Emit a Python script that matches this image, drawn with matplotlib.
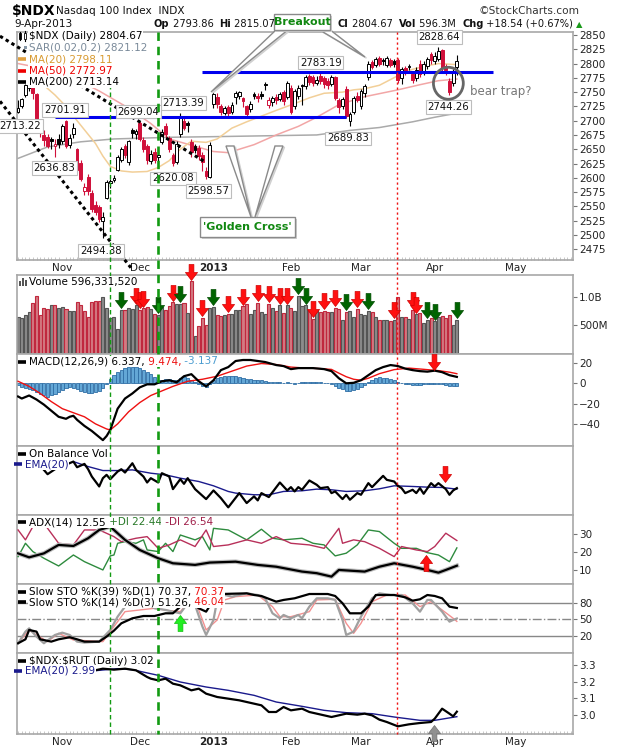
import numpy as np
import pandas as pd
import matplotlib as mpl
mpl.use('Agg')
import matplotlib.pyplot as plt
from matplotlib.patches import Rectangle, Ellipse, Polygon
from matplotlib.path import Path
from matplotlib.lines import Line2D

mpl.rcParams['font.family'] = ['DejaVu Sans']
mpl.rcParams['font.size'] = 7.5

# ---------------- data ----------------
holidays = ['2012-10-29', '2012-10-30', '2012-11-22', '2012-12-25', '2013-01-01',
            '2013-01-21', '2013-02-18', '2013-03-29', '2013-05-27']

open_ = [2716, 2726, 2745, 2758, 2765, 2746, 2692, 2675, 2672, 2668,
         2655, 2668, 2664, 2700, 2658, 2676, 2650, 2626, 2576, 2602,
         2574, 2552, 2548, 2524, 2565, 2590, 2596, 2614, 2632, 2656,
         2628, 2684, 2676, 2696, 2666, 2656, 2630, 2646, 2636, 2663,
         2690, 2670, 2640, 2628, 2676, 2700, 2696, 2662, 2656, 2652,
         2640, 2612, 2602, 2730, 2742, 2726, 2714, 2724, 2716, 2742,
         2744, 2740, 2726, 2720, 2746, 2744, 2746, 2764, 2728, 2732,
         2742, 2738, 2750, 2742, 2758, 2726, 2744, 2762, 2760, 2778,
         2776, 2766, 2778, 2774, 2770, 2764, 2776, 2736, 2726, 2756,
         2700, 2716, 2744, 2726, 2748, 2776, 2802, 2798, 2810, 2806,
         2798, 2806, 2804, 2806, 2774, 2792, 2794, 2782, 2774, 2800,
         2784, 2796, 2816, 2804, 2808, 2824, 2796, 2770, 2766, 2793.86]
high = [2736, 2740, 2764, 2772, 2770, 2748, 2698, 2683, 2676, 2672,
        2668, 2676, 2694, 2701.91, 2676, 2696, 2652, 2632, 2590, 2606,
        2578, 2560, 2552, 2540, 2596, 2598, 2604, 2640, 2654, 2660,
        2666, 2688, 2686, 2699.04, 2672, 2660, 2648, 2652, 2648, 2686,
        2696, 2674, 2644, 2664, 2713.39, 2706, 2700, 2668, 2660, 2658,
        2646, 2618, 2662, 2750, 2748, 2730, 2726, 2728, 2732, 2752,
        2752, 2742, 2728, 2734, 2750, 2748, 2752, 2768, 2742, 2744,
        2746, 2750, 2754, 2770, 2762, 2756, 2762, 2764, 2780, 2782,
        2780, 2778, 2783.19, 2778, 2774, 2780, 2778, 2740, 2742, 2760,
        2716, 2744, 2750, 2756, 2764, 2804, 2806, 2812, 2814, 2810,
        2814, 2810, 2808, 2810, 2794, 2796, 2800, 2786, 2794, 2806,
        2804, 2812, 2820, 2820, 2828.64, 2826, 2800, 2775, 2790, 2815.07]
low = [2713.22, 2722, 2742, 2752, 2738, 2684, 2672, 2655, 2652, 2650,
       2636.83, 2652, 2660, 2653, 2652, 2670, 2610, 2594, 2570, 2570,
       2540, 2534, 2522, 2494.38, 2562, 2582, 2592, 2612, 2628, 2634,
       2622, 2670, 2668, 2664, 2645, 2625, 2624, 2626, 2630, 2660,
       2668, 2645, 2620.08, 2624, 2672, 2684, 2680, 2636, 2644, 2632,
       2612, 2598.57, 2600, 2722, 2722, 2710, 2710, 2708, 2712, 2730,
       2738, 2724, 2706, 2716, 2738, 2732, 2738, 2754, 2722, 2726,
       2730, 2734, 2728, 2738, 2712, 2720, 2738, 2728, 2756, 2762,
       2760, 2762, 2764, 2758, 2756, 2760, 2736, 2714, 2720, 2704,
       2689.83, 2712, 2732, 2720, 2742, 2772, 2790, 2794, 2796, 2798,
       2794, 2794, 2794, 2766, 2764, 2780, 2788, 2766, 2770, 2776,
       2780, 2790, 2800, 2800, 2804, 2786, 2780, 2744.26, 2760, 2780]
close = [2722, 2738, 2762, 2768, 2748, 2690, 2680, 2667, 2656, 2664,
         2660, 2660, 2690, 2656, 2670, 2688, 2614, 2598, 2584, 2576,
         2546, 2540, 2528, 2532, 2592, 2594, 2600, 2637, 2650, 2640,
         2664, 2678, 2682, 2668, 2650, 2632, 2642, 2632, 2640, 2680,
         2676, 2650, 2626, 2660, 2704, 2688, 2692, 2645, 2648, 2638,
         2628, 2603, 2658, 2747, 2730, 2716, 2722, 2714, 2727, 2748,
         2750, 2734, 2712, 2730, 2744, 2740, 2744, 2762, 2736, 2740,
         2736, 2746, 2734, 2766, 2716, 2752, 2757, 2760, 2776, 2768,
         2766, 2772, 2770, 2764, 2762, 2776, 2740, 2724, 2738, 2708,
         2712, 2740, 2736, 2752, 2760, 2800, 2794, 2808, 2800, 2804,
         2810, 2798, 2800, 2772, 2790, 2786, 2796, 2772, 2788, 2782,
         2800, 2808, 2806, 2814, 2822, 2792, 2788, 2750, 2786, 2804.67]
volume_m = [645, 630, 686, 730, 890, 1005, 686, 800, 790, 861,
            861, 800, 820, 780, 750, 750, 900, 850, 750, 650,
            900, 915, 915, 1000, 800, 630, 645, 440, 773, 773,
            802, 790, 850, 773, 800, 814, 780, 695, 686, 814,
            773, 844, 906, 873, 873, 890, 716, 1270, 310, 483,
            630, 512, 800, 820, 686, 658, 686, 700, 700, 773,
            773, 832, 873, 695, 773, 890, 733, 695, 873, 802,
            745, 850, 716, 850, 802, 756, 1011, 832, 850, 773,
            617, 773, 733, 756, 733, 733, 802, 791, 594, 733,
            756, 652, 791, 695, 686, 756, 733, 640, 594, 594,
            594, 582, 594, 988, 640, 652, 617, 768, 695, 722,
            541, 594, 629, 571, 652, 663, 629, 686, 512, 596.33]

ma20_day = [5, 7, 10, 13, 15, 18, 21, 23, 25, 28, 31, 35, 38, 41, 44, 47, 51, 54, 58, 62,
            66, 70, 75, 79, 83, 88, 91, 94, 98, 101, 104, 107, 110, 114, 119]
ma20 = [2772, 2762, 2745, 2725, 2708, 2684, 2660, 2638, 2620, 2612, 2610, 2611, 2618, 2630,
        2650, 2664, 2662, 2668, 2687, 2698, 2708, 2718, 2730, 2740, 2748, 2750, 2754, 2756,
        2762, 2772, 2782, 2790, 2795, 2800, 2798.11]
ma50_day = [0, 8, 15, 22, 30, 36, 41, 47, 53, 57, 64, 70, 76, 81, 87, 94, 103, 109, 114, 119]
ma50 = [2800, 2790, 2775, 2752, 2722, 2695, 2668, 2657, 2646, 2644, 2658, 2675, 2690, 2706,
        2728, 2742, 2754, 2763, 2770, 2772.97]
ma200_day = [0, 8, 17, 26, 42, 53, 81, 90, 98, 107, 113, 119]
ma200 = [2634, 2654, 2663, 2668, 2671, 2672, 2675, 2683, 2688, 2698, 2706, 2713.14]

# price annotations
trend_a_day, trend_a = [-4.9, 50.4], [2848, 2629]
trend_b_day, trend_b = [-4.9, 30.9], [2734, 2440]
support_day, support = [10, 89], 2707
resist_day, resist = [49.9, 128.8], 2786
swing_text = ['2828.64', '2783.19', '2744.26', '2689.83', '2713.39', '2701.91', '2699.04',
              '2713.22', '2636.83', '2494.38', '2620.08', '2598.57']
swing_day = [114.2, 82.1, 116.7, 89.5, 44.8, 12.7, 32.6, 0.5, 9.8, 22.5, 42.0, 51.6]
swing_price = [2846, 2801.6, 2723.5, 2669, 2730.5, 2718.7, 2715.8, 2690.7, 2616.6, 2472.3,
               2599, 2576.9]
trap_day, trap_price = 116.7, 2765.5

red_arrow_day = [32, 33, 34, 42, 47, 50, 57, 61, 65, 68, 71, 73, 80, 83, 86, 92, 102, 107, 108]
green_arrow_day = [28, 38, 44, 53, 76, 78, 89, 95, 111, 113, 119]

macd_day = [0, 1, 3, 5, 7, 9, 11, 13, 14, 15, 16, 18, 20, 22, 23, 24, 25, 27, 29, 31,
            33, 35, 37, 39, 41, 43, 45, 47, 49, 51, 53, 55, 57, 59, 61, 63, 65, 67, 70, 72,
            74, 76, 78, 80, 83, 85, 87, 89, 91, 93, 95, 97, 99, 101, 103, 105, 107, 109, 111, 113,
            115, 117, 119]
macd = [-13, -15, -12, -16, -21, -27, -33, -35, -33, -32, -36, -42, -47, -53, -56, -52, -46, -25, -15, -10,
        -4, -1, -1, 2, 3, 1, 7, 9, 2, -3, 3, 13, 16, 22, 23, 23, 22, 21, 18, 17,
        14, 15, 15, 15, 14, 12, 5, 0, 0.5, 3, 8, 13, 16, 18, 17, 14.5, 13, 12, 11.5, 12.5,
        11, 8, 6.337]
signal_day = [0, 3, 6, 9, 12, 15, 18, 21, 24, 25, 27, 30, 33, 36, 38, 42, 46, 50, 54, 58,
              62, 66, 70, 74, 78, 82, 85, 87, 89, 91, 93, 95, 98, 102, 106, 110, 114, 117, 119]
signal = [2, -3, -10, -18, -25, -29, -33, -40, -45, -46, -40, -28, -19, -12, -9, -3, 2, 4, 7, 12,
          17, 19.5, 18.5, 16, 15, 14.5, 13.7, 10, 6.5, 4, 3, 5, 9.5, 13.5, 15, 13.8, 12.5, 11, 9.474]
macd_hist = [-2, -4, -5, -6, -7, -9, -11, -12, -13, -12, -11, -9, -7, -5, -4, -5, -6, -8, -9, -10,
             -10, -9, -8, -5, -1, 4, 8, 11, 13, 15, 16, 16, 16, 15, 13, 11, 9, 6, 3, 3,
             4, 4, 3, 3, 5, 6, 5, 3, 1, -1, -3, -4, -1, 3, 5, 6, 7, 7, 7, 7,
             6, 5, 4, 4, 3, 3, 3, 2, 1, 1, 1, 1, 0, 1, 0, -1, 0, 1, 1, 1,
             1, 1, 1, 0, 0, -1, -3, -5, -6, -8, -8, -7, -6, -4, -2, 1, 3, 5, 6, 5,
             5, 4, 3, 1, 0, -1, -1, -2, -2, -2, -1, -1, -1, -1, -1, -1, -2, -3, -3, -3.137]

obv_day = [7, 8, 10, 15, 16, 18, 19, 20, 22, 23, 24, 25, 27, 28, 29, 31, 32, 34, 35, 36,
           38, 39, 41, 42, 44, 45, 46, 48, 51, 53, 55, 57, 60, 62, 64, 65, 66, 68, 71, 73,
           74, 75, 76, 77, 79, 81, 82, 84, 85, 86, 88, 89, 90, 92, 93, 95, 96, 99, 100, 102,
           103, 104, 105, 107, 108, 109, 110, 112, 113, 114, 116, 117, 118, 119]
obv = [130, 117, 132, 155, 138, 148, 132, 110, 80, 105, 115, 102, 125, 132, 122, 150, 130, 110, 92, 105,
       92, 120, 110, 72, 102, 88, 105, 72, 42, 68, 45, 17, 60, 30, 50, 38, 60, 48, 92, 68,
       78, 65, 78, 70, 98, 85, 75, 78, 60, 65, 42, 55, 40, 60, 55, 90, 78, 112, 100, 95,
       82, 75, 60, 70, 60, 75, 58, 90, 80, 90, 72, 55, 68, 75]
obv_ema_day = [15, 19, 23, 27, 31, 36, 40, 44, 49, 53, 57, 59, 64, 68, 72, 77, 81, 85, 89, 94,
               98, 102, 107, 111, 115, 119]
obv_ema = [155, 140, 128, 128, 130, 120, 115, 105, 95, 82, 65, 60, 55, 55, 65, 67, 72, 70, 65, 67,
           73, 82, 80, 78, 77, 72]

adx_day = [0, 3, 7, 11, 15, 19, 22, 25, 26, 29, 33, 38, 42, 48, 52, 59, 65, 70, 77, 81,
           85, 87, 94, 98, 102, 107, 111, 114, 116, 119]
adx = [19.4, 17.2, 19.4, 24.1, 23.5, 27.8, 32.4, 34.2, 32.4, 26.9, 21.3, 16.7, 13.9, 13.0, 14.3,
       14.8, 13.0, 12.0, 9.3, 8.4, 6.5, 10.2, 9.3, 12.0, 13.9, 12.0, 10.2, 8.7, 10.2, 12.55]
pdi_day = [0, 2, 4, 7, 11, 15, 18, 23, 25, 26, 27, 29, 32, 34, 35, 38, 40, 42, 44, 48,
           50, 52, 53, 57, 62, 66, 69, 72, 77, 80, 83, 86, 89, 92, 95, 98, 102, 104, 108, 111,
           114, 117, 119]
pdi = [17.6, 25.0, 20.4, 16.7, 12.4, 18.5, 14.8, 10.2, 18.0, 18.5, 25.0, 25.9, 25.0, 26.9, 21.3,
       20.4, 25.0, 20.4, 29.6, 26.9, 28.7, 21.3, 33.3, 32.4, 26.9, 32.8, 27.8, 26.9, 27.8, 25.0,
       24.1, 18.0, 19.5, 24.1, 32.4, 31.5, 25.0, 22.2, 22.2, 19.8, 18.5, 14.8, 22.44]
ndi_day = [0, 2, 4, 7, 11, 15, 18, 22, 26, 28, 32, 35, 38, 41, 44, 48, 51, 53, 57, 62,
           66, 70, 74, 79, 83, 87, 88, 91, 94, 98, 102, 104, 108, 111, 113, 116, 119]
ndi = [32.4, 26.9, 34.2, 36.1, 25.0, 24.1, 32.4, 32.4, 28.7, 25.9, 27.8, 28.7, 22.2, 24.1, 26.9,
       23.2, 32.4, 23.2, 24.1, 26.9, 25.0, 28.7, 25.0, 24.1, 22.2, 33.3, 25.0, 26.9, 25.9, 22.2,
       17.6, 23.2, 21.3, 20.4, 23.2, 30.6, 26.54]

k39_day = [0, 2, 3, 5, 6, 9, 11, 14, 16, 18, 22, 24, 26, 28, 31, 34, 37, 40, 42, 44,
           45, 48, 49, 51, 53, 55, 62, 64, 66, 70, 72, 75, 79, 84, 86, 88, 90, 93, 95, 97,
           102, 105, 107, 109, 111, 113, 115, 117, 118, 119]
k39 = [6.2, 13.4, 30.4, 27.4, 13.4, 9.2, 13.4, 17.1, 13.4, 9.2, 9.2, 18.3, 29.2, 42.5, 51.6,
       55.8, 55.8, 60.7, 60.7, 72.8, 94, 75.9, 69.8, 63.7, 85, 95.8, 97, 94, 92.2, 81.9,
       85, 88, 95.8, 95.8, 92.2, 78.9, 60.7, 60.7, 72.8, 94, 94, 89.8, 83.7, 86.2, 94,
       92.2, 88, 72.8, 71.6, 70.37]
k14_day = [0, 2, 3, 5, 7, 10, 12, 14, 16, 18, 22, 25, 27, 29, 32, 37, 40, 42, 44, 46,
           47, 48, 50, 51, 53, 54, 56, 58, 62, 65, 67, 69, 71, 72, 74, 76, 77, 79, 81, 84,
           86, 88, 89, 91, 93, 96, 98, 101, 104, 107, 109, 111, 112, 115, 117, 118, 119]
k14 = [6.2, 27.4, 33.4, 18.3, 6.2, 21.3, 25.5, 21.3, 9.2, 7.4, 9.2, 30.4, 54.6, 72.8, 94.0,
       69.8, 66.8, 63.7, 60.7, 78.9, 97.1, 75.9, 36.5, 21.3, 48.6, 85.0, 94.0, 91.0, 97.1, 94.0,
       88.0, 60.7, 51.6, 57.7, 51.6, 57.7, 51.6, 72.8, 88.0, 88.0, 85.0, 48.6, 21.3, 27.4, 54.6,
       88.0, 97.1, 94.0, 94.0, 78.9, 63.7, 85.0, 85.0, 63.7, 45.5, 48.6, 51.26]
d3_day = [0, 3, 5, 8, 11, 15, 23, 26, 29, 37, 41, 44, 47, 49, 51, 54, 56, 59, 65, 69,
          71, 74, 79, 81, 86, 89, 91, 93, 96, 100, 105, 109, 112, 115, 118, 119]
d3 = [6.2, 30.4, 21.3, 9.2, 24.3, 12.2, 9.2, 36.5, 63.7, 69.8, 65.5, 63.7, 88.0, 66.8, 30.4,
      48.6, 85.0, 91.0, 94.0, 72.8, 54.6, 54.6, 63.7, 85.0, 86.2, 42.5, 24.3, 42.5, 81.9, 94.0,
      94.0, 72.8, 81.9, 66.8, 51.6, 46.04]

ratio_day = [20, 23, 26, 29, 32, 35, 36, 38, 40, 42, 44, 47, 49, 51, 54, 57, 60, 64, 66, 68,
             70, 72, 74, 77, 79, 81, 83, 85, 87, 89, 92, 94, 96, 98, 100, 103, 106, 109, 112, 113,
             115, 117, 118, 119]
ratio = [3.264, 3.278, 3.272, 3.278, 3.268, 3.228, 3.218, 3.208, 3.218, 3.188, 3.178, 3.148,
         3.158, 3.128, 3.108, 3.098, 3.088, 3.068, 3.058, 3.018, 3.018, 3.048, 3.028, 3.038,
         3.018, 3.008, 2.998, 2.988, 2.998, 3.008, 3.002, 3.008, 2.998, 2.972, 2.958, 2.932,
         2.944, 2.952, 2.958, 2.978, 3.038, 3.008, 2.992, 3.02]
ratio_ema_day = [20, 27, 31, 38, 44, 51, 57, 64, 70, 77, 83, 89, 96, 102, 109, 113, 119]
ratio_ema = [3.264, 3.278, 3.272, 3.238, 3.198, 3.168, 3.148, 3.118, 3.078, 3.052, 3.028,
             3.014, 3.008, 2.988, 2.968, 2.968, 2.99]

guide_green_day = [25, 38]
guide_red_day = 102.7

# ---------------- layout ----------------
W, H = 620, 750
L, R = 16.6, 573
XMIN, XMAX = -0.4, 150.5
RED = '#d0103a'
GRID = '#a8a8a8'

days = pd.bdate_range('2012-10-12', '2013-05-31')
days = days[~days.isin(pd.to_datetime(holidays))]
n = len(close)
x = np.arange(n)
month_pos, month_lab = [], []
for k in range(1, len(days)):
    if days[k].month != days[k - 1].month and k < XMAX:
        month_pos.append(k)
        month_lab.append('2013' if days[k].month == 1 else days[k].strftime('%b'))

fig = plt.figure(figsize=(6.2, 7.5), dpi=100)


def fx(v):
    return v / W


def fy(v):
    return 1 - v / H


def panel(top, bot, ylim, yticks=None, ylabels=None):
    ax = fig.add_axes([fx(L), fy(bot), (R - L) / W, (bot - top) / H])
    ax.set_xlim(XMIN, XMAX)
    ax.set_ylim(*ylim)
    for s in ax.spines.values():
        s.set_color(GRID)
        s.set_linewidth(1.2)
    ax.yaxis.tick_right()
    ax.tick_params(axis='y', length=3, width=0.8, color='#777', pad=1.5, labelsize=7.5,
                   labelcolor='#222')
    ax.set_yticks(yticks if yticks is not None else [])
    if ylabels is not None:
        ax.set_yticklabels(ylabels)
    ax.set_xticks([])
    return ax


def month_axis(ax):
    ax.set_xticks(month_pos)
    ax.set_xticklabels(month_lab)
    ax.set_xticks(np.arange(0, 151), minor=True)
    ax.tick_params(axis='x', which='major', length=0, pad=2.5, labelsize=7.5, labelcolor='#222')
    ax.tick_params(axis='x', which='minor', length=2, width=0.5, color='#b0b0b0', direction='in')
    for t in ax.get_xticklabels():
        if t.get_text() == '2013':
            t.set_fontweight('bold')


# ---------------- price panel ----------------
axp = panel(32, 260, (2456, 2855.3), np.arange(2475, 2851, 25))
month_axis(axp)
prev = np.r_[close[0], close[:-1]]
for i in range(n):
    col = RED if close[i] < prev[i] else 'black'
    axp.vlines(i, low[i], high[i], color=col, lw=0.8, zorder=3)
    lo, hi = min(open_[i], close[i]), max(open_[i], close[i])
    face = 'white' if close[i] >= open_[i] else col
    axp.add_patch(Rectangle((i - 0.38, lo), 0.76, max(hi - lo, 1.2), facecolor=face,
                            edgecolor=col, lw=0.7, zorder=4))
axp.plot(ma200_day, ma200, color='#aaaaaa', lw=1.1, zorder=2)
axp.plot(ma50_day, ma50, color='#f2a6a6', lw=1.1, zorder=2)
axp.plot(ma20_day, ma20, color='#f2cf98', lw=1.1, zorder=2)
axp.plot(trend_a_day, trend_a, color='black', lw=2.2, ls=(0, (1.1, 1.1)), clip_on=False, zorder=5)
axp.plot(trend_b_day, trend_b, color='black', lw=2.2, ls=(0, (1.1, 1.1)), clip_on=False, zorder=5)
axp.hlines(support, *support_day, color='#0000ee', lw=2.2, zorder=5)
axp.hlines(resist, *resist_day, color='#0000ee', lw=2.2, zorder=5)
for s, d, p in zip(swing_text, swing_day, swing_price):
    axp.text(d, p, s, ha='center', va='center', fontsize=7.3, color='#111', clip_on=False, zorder=6,
             bbox=dict(facecolor='white', edgecolor='#bdbdbd', lw=0.8, pad=1.3))
axp.add_patch(Ellipse((trap_day, trap_price), 8.1, 56, fill=False, edgecolor='#666666', lw=2.0, zorder=6))
axp.text(122.7, 2751, 'bear trap?', color='#777777', fontsize=8.5, va='center', ha='left')

# ---------------- volume panel ----------------
axv = panel(275, 354, (0, 1376), [500, 1000], ['500M', '1.0B'])
vfill = ['#d47a82' if close[i] < prev[i] else '#8c8c8c' for i in range(n)]
vedge = ['#c0283e' if close[i] < prev[i] else '#555555' for i in range(n)]
axv.bar(x, volume_m, width=0.82, color=vfill, edgecolor=vedge, lw=0.8, zorder=2)

down_arrow = Path([(-0.15, 0.5), (0.15, 0.5), (0.15, 0.0), (0.38, 0.0), (0, -0.5), (-0.38, 0.0),
                   (-0.15, 0.0), (-0.15, 0.5)], closed=True)
up_arrow = Path([(vx, -vy) for vx, vy in down_arrow.vertices], closed=True)
vol = np.array(volume_m)
axv.plot(red_arrow_day, vol[red_arrow_day] + 165, ls='none', marker=down_arrow, ms=11.5,
         mfc='#ff1010', mec='#d00000', mew=0.5, clip_on=False, zorder=6)
axv.plot(green_arrow_day, vol[green_arrow_day] + 165, ls='none', marker=down_arrow, ms=11.5,
         mfc='#006400', mec='#004d00', mew=0.5, clip_on=False, zorder=6)

# ---------------- MACD panel ----------------
axm = panel(354, 446, (-61.8, 28.9), [-40, -20, 0, 20])
axm.bar(x, macd_hist, width=0.85, color='#63a7d6', edgecolor='#2f6ea5', lw=0.6, zorder=2)
axm.plot(signal_day, signal, color='#ee1111', lw=1.0, zorder=3)
axm.plot(macd_day, macd, color='black', lw=1.6, zorder=4)
axm.plot([112.8], [21], ls='none', marker=down_arrow, ms=11.5, mfc='#ff1010', mec='#d00000',
         mew=0.5, zorder=6)

# ---------------- OBV panel ----------------
axo = panel(446, 515, (-6, 202))
axo.plot(obv_ema_day, obv_ema, color='#1a1a8c', lw=1.0, zorder=3)
axo.plot(obv_day, obv, color='black', lw=1.6, zorder=4)
axo.plot([115.7], [118], ls='none', marker=down_arrow, ms=11.5, mfc='#ff1010', mec='#d00000',
         mew=0.5, zorder=6)

# ---------------- ADX panel ----------------
axa = panel(515, 584, (2.4, 40.7), [10, 20, 30])
axa.plot(pdi_day, pdi, color='#2e8b3e', lw=1.0, zorder=3)
axa.plot(ndi_day, ndi, color='#b8305a', lw=1.0, zorder=3)
axa.plot(adx_day, adx, color='#bbbbbb', lw=3.2, zorder=3)
axa.plot(adx_day, adx, color='black', lw=1.6, zorder=4)
axa.plot([110.6], [14.3], ls='none', marker=up_arrow, ms=11.5, mfc='#ff1010', mec='#d00000',
         mew=0.5, zorder=6)

# ---------------- Slow stochastics panel ----------------
axs = panel(584, 653, (-11.5, 114), [20, 50, 80])
axs.axhline(80, color='#888888', lw=1.0)
axs.axhline(20, color='#888888', lw=1.0)
axs.axhline(50, color='#888888', lw=1.0, ls='-.')
axs.plot(d3_day, d3, color='#f39090', lw=1.0, zorder=3)
axs.plot(k14_day, k14, color='#a0a0a0', lw=1.6, zorder=3)
axs.plot(k39_day, k39, color='black', lw=1.6, zorder=4)
axs.plot([43.9], [43], ls='none', marker=up_arrow, ms=11.5, mfc='#22ee22', mec='#10c010',
         mew=0.5, zorder=6)

# ---------------- ratio panel ----------------
axr = panel(653, 734, (2.886, 3.372), [3.0, 3.1, 3.2, 3.3], ['3.0', '3.1', '3.2', '3.3'])
month_axis(axr)
axr.plot(ratio_ema_day, ratio_ema, color='#1a1a8c', lw=1.0, zorder=3)
axr.plot(ratio_day, ratio, color='black', lw=1.6, zorder=4)
axr.plot([112.7], [2.892], ls='none', marker=up_arrow, ms=11.5, mfc='#909090', mec='#707070',
         mew=0.5, clip_on=False, zorder=6)

# ---------------- vertical guide lines ----------------
inv = fig.transFigure.inverted()


def day_fig(d):
    return inv.transform(axp.transData.transform((d, 2600)))[0]


for d, lw in zip(guide_green_day, [1.0, 1.9]):
    fig.add_artist(Line2D([day_fig(d)] * 2, [fy(32), fy(734)], color='#129a12', lw=lw,
                          ls=(0, (3.2, 2.2)), zorder=2.5))
fig.add_artist(Line2D([day_fig(guide_red_day)] * 2, [fy(32), fy(734)], color='#ee1111', lw=1.0,
                      ls=(0, (1.6, 2.0)), zorder=2.5))

# ---------------- callouts ----------------
def wedge(pts):
    fig.add_artist(Polygon([(fx(a + 1.5), fy(b + 1.2)) for a, b in pts], closed=True,
                           facecolor='#d8d8d8', edgecolor='#d0d0d0', lw=1, zorder=7))
    fig.add_artist(Polygon([(fx(a), fy(b)) for a, b in pts], closed=True, facecolor='white',
                           edgecolor='#8a8a8a', lw=1, zorder=7))


def callout_box(x0, y0, x1, y1, text):
    fig.add_artist(Rectangle((fx(x0 + 2), fy(y1 + 2)), (x1 - x0) / W, (y1 - y0) / H,
                             facecolor='#cfcfcf', edgecolor='none', zorder=7))
    fig.add_artist(Rectangle((fx(x0), fy(y1)), (x1 - x0) / W, (y1 - y0) / H,
                             facecolor='white', edgecolor='#8a8a8a', lw=1, zorder=7.5))
    fig.text(fx((x0 + x1) / 2), fy((y0 + y1) / 2), text, ha='center', va='center',
             color='#118811', fontweight='bold', fontsize=8.0, zorder=8)


wedge([(277, 29), (289, 29), (211, 92)])
wedge([(318, 29), (329, 29), (365, 57)])
callout_box(274, 14, 330, 30, 'Breakout')
wedge([(226, 146), (234, 146), (251, 217)])
wedge([(275, 146), (283, 146), (255, 217)])
callout_box(199.6, 216.7, 294.5, 237.3, "'Golden Cross'")

# ---------------- header ----------------
rend = fig.canvas.get_renderer()


def rich(x0, y, parts, size=7.5, bg=False, z=9):
    xx = x0
    for s, c, wgt in parts:
        kw = dict(bbox=dict(facecolor='white', edgecolor='none', pad=0.4)) if bg else {}
        t = fig.text(fx(xx), fy(y), s, color=c, fontsize=size, fontweight=wgt, ha='left',
                     va='center', zorder=z, **kw)
        xx += t.get_window_extent(rend).width
    return xx


rich(12, 11, [('$NDX', 'black', 'bold')], size=10)
rich(56, 11, [('Nasdaq 100 Index  INDX', '#111', 'normal')], size=7.6)
fig.text(fx(579), fy(11), '\u00a9StockCharts.com', ha='right', va='center', fontsize=7.6, color='#333')
rich(14, 24, [('9-Apr-2013', '#111', 'normal')], size=7.6)
rich(154, 24, [('Op', '#111', 'bold'), (' 2793.86  ', '#111', 'normal'),
               ('Hi', '#111', 'bold'), (' 2815.07', '#111', 'normal')], size=7.1)
xe = rich(338, 24, [('Cl', '#111', 'bold'), (' 2804.67  ', '#111', 'normal'),
                    ('Vol', '#111', 'bold'), (' 596.3M  ', '#111', 'normal'),
                    ('Chg', '#111', 'bold'), (' +18.54 (+0.67%)', '#111', 'normal')], size=7.1)
fig.text(fx(xe + 3), fy(24.5), '\u25b2', color='#1a9a1a', fontsize=6, ha='left', va='center')


# ---------------- panel legends ----------------
def leg(y, parts, mark=None, x0=18):
    if mark is not None:
        fig.add_artist(Line2D([fx(x0), fx(x0 + 8)], [fy(y), fy(y)], color=mark, lw=2.6,
                              solid_capstyle='butt', zorder=9))
    rich(x0 + 11, y, [(s, c, 'normal') for s, c in parts], size=7.5, bg=True)


# candle glyph for the price legend
fig.add_artist(Line2D([fx(20), fx(20)], [fy(32), fy(40)], color='black', lw=0.8, zorder=9))
fig.add_artist(Rectangle((fx(19), fy(38.5)), 2 / W, 5 / H, facecolor='black', edgecolor='black', lw=0.6, zorder=9))
fig.add_artist(Line2D([fx(25), fx(25)], [fy(31), fy(41)], color='black', lw=0.8, zorder=9))
fig.add_artist(Rectangle((fx(24), fy(39)), 2 / W, 6 / H, facecolor='white', edgecolor='black', lw=0.6, zorder=9))
leg(36, [('$NDX (Daily) 2804.67', 'black')])
fig.add_artist(Rectangle((fx(24), fy(49)), 3 / W, 3 / H, facecolor='#8798a8', edgecolor='none', zorder=9))
leg(47.5, [('SAR(0.02,0.2) 2821.12', '#7a8a9a')])
leg(59, [('MA(20) 2798.11', '#d89a30')], mark='#e0a040')
leg(70.5, [('MA(50) 2772.97', '#ee0000')], mark='#ee0000')
leg(82, [('MA(200) 2713.14', 'black')], mark='black')

for k, hgt in enumerate([5, 8, 6]):
    fig.add_artist(Rectangle((fx(19 + k * 3), fy(286)), 2 / W, hgt / H, facecolor='#555',
                             edgecolor='none', zorder=9))
leg(281.5, [('Volume 596,331,520', 'black')])
leg(361.5, [('MACD(12,26,9) 6.337,', 'black'), (' 9.474,', '#ee1111'), (' -3.137', '#4a9cd0')],
    mark='black')
leg(454, [('On Balance Vol', 'black')], mark='black')
leg(464.3, [('EMA(20)', '#1a1a8c')], mark='#1a1a8c', x0=14)
leg(522.3, [('ADX(14) 12.55', 'black'), (' +DI 22.44', '#2a7a2a'), (' -DI 26.54', '#a0204a')],
    mark='black')
leg(591.7, [('Slow STO %K(39) %D(1) 70.37,', 'black'), (' 70.37', '#ee1111')], mark='black')
leg(602.3, [('Slow STO %K(14) %D(3) 51.26,', 'black'), (' 46.04', '#ee1111')], mark='black')
leg(660.7, [('\\$NDX:\\$RUT (Daily) 3.02', 'black')], mark='black')
leg(670.7, [('EMA(20) 2.99', '#1a1a8c')], mark='#1a1a8c', x0=14)

fig.savefig('out.png', dpi=100, facecolor='white')
